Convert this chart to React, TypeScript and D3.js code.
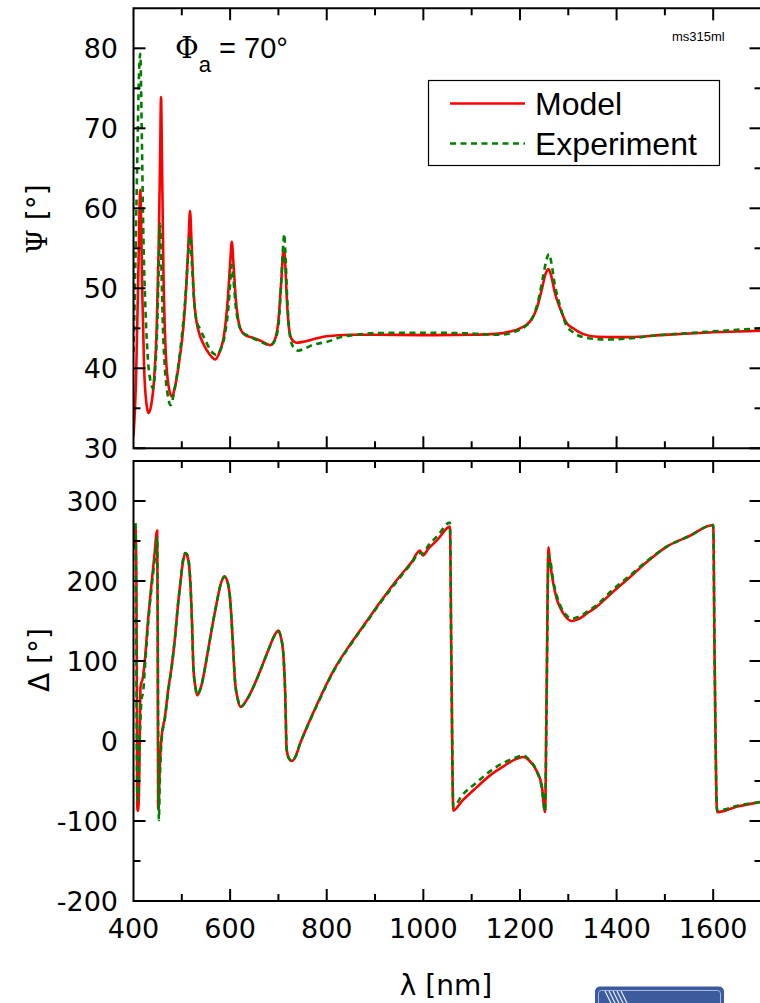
import React from 'react';
import * as d3 from 'd3';

// ---------- data ----------
const psiModel: [number, number][] = [
  [400, 31.5], [405, 38], [410, 52], [414, 62.3], [418, 50], [422, 40], [427, 35.5], [431, 34.4],
  [437, 35.5], [443, 39], [448, 45], [452, 55], [455, 66], [457, 73.9], [459, 66], [462, 52],
  [466, 43], [471, 38.5], [479, 36.5], [487, 38], [495, 41], [503, 45], [509, 50], [514, 56],
  [517, 59.7], [520, 56], [525, 49], [530, 46], [534, 44.8], [545, 43], [558, 41.7], [569, 41.1],
  [578, 42], [587, 44], [595, 48.5], [600, 53], [603.5, 55.8], [607, 53], [612, 48.5], [617, 46],
  [621, 45], [630, 44.2], [648, 43.8], [665, 43.4], [683, 42.9], [692, 43.5], [700, 46], [706, 51],
  [710, 54.6], [712, 54.9], [714, 53], [718, 48], [722, 45], [728, 43.6], [738, 43.2], [750, 43.3],
  [770, 43.6], [800, 44.0], [850, 44.2], [900, 44.2], [1000, 44.15], [1100, 44.2], [1150, 44.3],
  [1180, 44.6], [1200, 45.0], [1220, 45.8], [1235, 47.5], [1245, 49.8], [1253, 51.8], [1259, 52.4],
  [1265, 51.5], [1272, 49.5], [1283, 47.5], [1295, 45.8], [1310, 45.0], [1330, 44.3], [1359, 43.95],
  [1400, 43.9], [1430, 43.9], [1490, 44.15], [1550, 44.35], [1600, 44.5], [1650, 44.6], [1700, 44.7],
];

const psiExperiment: [number, number][] = [
  [400, 42], [403, 50], [406, 60], [409, 70], [411, 76], [414, 79.3], [417, 70], [420, 58],
  [425, 47], [430, 41], [436, 38.2], [441, 37.5], [445, 40], [449, 45], [452, 52], [455, 58.1],
  [458, 52], [461, 45], [465, 40], [470, 37], [477, 35.4], [484, 37], [492, 40], [500, 44],
  [507, 48.5], [513, 54], [517, 56.5], [521, 53], [526, 48], [531, 45.8], [537, 45.0], [548, 43.6],
  [560, 42.2], [571, 41.7], [580, 42.3], [590, 44.5], [597, 48], [600, 50.5], [603.5, 52.9],
  [607, 51], [612, 47.5], [618, 45.5], [625, 44.5], [640, 44.0], [660, 43.4], [683, 42.9],
  [693, 43.5], [701, 46], [706, 51], [710, 55.5], [712, 56.8], [714, 55], [718, 49], [722, 45],
  [728, 43], [735, 42.4], [741, 42.2], [755, 42.5], [770, 42.9], [800, 43.3], [830, 43.9],
  [869, 44.25], [900, 44.4], [1000, 44.45], [1100, 44.35], [1150, 44.2], [1170, 44.25],
  [1190, 44.6], [1210, 45.2], [1225, 46.2], [1238, 48.5], [1248, 51.5], [1256, 53.8], [1260, 54.3],
  [1265, 53.2], [1272, 50.5], [1283, 47.8], [1295, 45.5], [1310, 44.5], [1330, 43.9], [1360, 43.65],
  [1380, 43.6], [1420, 43.7], [1480, 44.1], [1550, 44.4], [1620, 44.7], [1700, 45.0],
];

const deltaModel: [number, number][] = [
  [400, 240], [402, 262], [404, 267], [406, 200], [407, 50], [408, -87], [410, -87], [412, -40],
  [414, 60], [415, 70], [419, 78], [423.5, 101], [430, 150], [437, 195], [443, 230], [449, 263],
  [450, 150], [451, -84], [452, -85], [454, -40], [458, 5], [465, 30], [472, 65], [479, 93],
  [486, 130], [492, 170], [497, 197], [502, 222], [507, 235], [512, 230], [517, 205], [521, 150],
  [524, 92], [528, 68], [532, 57], [540, 68], [552, 105], [562, 140], [572, 172], [580, 195],
  [588, 206], [594, 200], [600, 178], [605, 130], [610, 76], [616, 52], [622, 42.5], [635, 52],
  [650, 70], [665, 92], [680, 115], [692, 132], [700, 138], [705, 130], [710, 110], [714, 60],
  [717, -10], [722, -22], [728, -25], [735, -20], [745, -3], [759, 17.5], [780, 46], [814, 88],
  [850, 122], [883, 150], [910, 173], [950, 205], [975, 223], [993, 238], [999, 232], [1010, 240],
  [1030, 252], [1055, 268], [1058, 100], [1062, -87], [1080, -75], [1110, -58], [1140, -42],
  [1170, -30], [1190, -23], [1207, -20], [1220, -25], [1235, -38], [1245, -55], [1252, -89],
  [1255, 50], [1259, 242], [1262, 225], [1269, 197], [1276, 178], [1283, 167], [1295, 155],
  [1307, 150], [1320, 152], [1340, 160], [1359, 168], [1390, 185], [1428, 205], [1465, 225],
  [1504, 243], [1550, 256], [1600, 270], [1603, 100], [1608, -89], [1650, -82], [1700, -76],
];

const deltaExperiment: [number, number][] = [
  [400, 250], [402, 272], [404, 274], [405, 230], [406, 100], [407, -20], [408, -74], [410, -70],
  [412, -20], [414, 20], [416.5, 51], [420, 62], [424, 95], [430, 145], [437, 190], [443, 222],
  [449, 255], [450, 200], [451, 20], [452.5, -99], [454, -60], [458, 0], [465, 28], [472, 63],
  [479, 92], [486, 130], [492, 170], [497, 198], [502, 225], [507, 235], [512, 232], [517, 206],
  [521, 150], [524, 92], [528, 68], [532, 58], [540, 68], [552, 105], [562, 140], [572, 172],
  [580, 195], [588, 205], [594, 200], [600, 178], [605, 130], [610, 76], [616, 52], [622, 43],
  [635, 52], [650, 70], [665, 92], [680, 115], [692, 132], [700, 137], [705, 130], [710, 110],
  [714, 60], [717, -10], [722, -22], [728, -25], [735, -20], [745, -3], [759, 17], [780, 45],
  [814, 87], [850, 121], [883, 149], [910, 172], [950, 203], [975, 222], [993, 235], [999, 234],
  [1010, 244], [1030, 257], [1055, 273], [1058, 100], [1062, -82], [1080, -68], [1110, -52],
  [1140, -37], [1170, -26], [1190, -21], [1207, -18], [1220, -24], [1235, -38], [1245, -58],
  [1252, -88], [1255, 40], [1259, 232], [1262, 228], [1269, 200], [1276, 182], [1283, 170],
  [1295, 158], [1307, 153], [1320, 155], [1340, 162], [1359, 170], [1390, 188], [1428, 207],
  [1465, 226], [1504, 243], [1550, 256], [1600, 270], [1603, 100], [1608, -87], [1650, -81],
  [1700, -76],
];

const xTickLabels = [400, 600, 800, 1000, 1200, 1400, 1600];
const xMinorTicks = [500, 700, 900, 1100, 1300, 1500];
const psiTickLabels = [30, 40, 50, 60, 70, 80];
const psiMinorTicks = [35, 45, 55, 65, 75];
const deltaTickLabels = [-200, -100, 0, 100, 200, 300];
const deltaMinorTicks = [-150, -50, 50, 150, 250];
const legendItems = ['Model', 'Experiment'];

// ---------- layout ----------
const W = 760;
const H = 1003;
const X0 = 133.5;
const X1 = 761.5;
const TOP = { t: 8.3, b: 448.3 };
const BOT = { t: 461, b: 901 };
const RED = '#ff0000';
const GREEN = '#008000';
const DASH = '6,4.5';
const NUM_FONT = 'DejaVu Sans, Verdana, sans-serif';
const ARIAL = 'Liberation Sans, Arial, sans-serif';

const x = d3.scaleLinear().domain([400, 1700]).range([X0, X1]);
const yPsi = d3.scaleLinear().domain([30, 85]).range([TOP.b, TOP.t]);
const yDel = d3.scaleLinear().domain([-200, 350]).range([BOT.b, BOT.t]);

const mkLine = (y: d3.ScaleLinear<number, number>) =>
  d3
    .line<[number, number]>()
    .x((d) => x(d[0]))
    .y((d) => y(d[1]))
    .curve(d3.curveMonotoneX);

const MAJ = 12;
const MIN = 7;

function Frame({ t, b, y, major, minor }: any) {
  const els: any[] = [];
  xTickLabels.forEach((v) => {
    if (v === 400) return;
    els.push(<line key={'xt' + v} x1={x(v)} x2={x(v)} y1={t} y2={t + MAJ} />);
    els.push(<line key={'xb' + v} x1={x(v)} x2={x(v)} y1={b} y2={b - MAJ} />);
  });
  xMinorTicks.forEach((v) => {
    els.push(<line key={'xmt' + v} x1={x(v)} x2={x(v)} y1={t} y2={t + MIN} />);
    els.push(<line key={'xmb' + v} x1={x(v)} x2={x(v)} y1={b} y2={b - MIN} />);
  });
  major.forEach((v: number) => {
    els.push(<line key={'yl' + v} x1={X0} x2={X0 + MAJ} y1={y(v)} y2={y(v)} />);
    els.push(<line key={'yr' + v} x1={X1} x2={X1 - MAJ} y1={y(v)} y2={y(v)} />);
  });
  minor.forEach((v: number) => {
    els.push(<line key={'yml' + v} x1={X0} x2={X0 + MIN} y1={y(v)} y2={y(v)} />);
    els.push(<line key={'ymr' + v} x1={X1} x2={X1 - MIN} y1={y(v)} y2={y(v)} />);
  });
  return (
    <g>
      <g stroke="#000" strokeWidth={2} fill="none">
        <path d={`M${X1 + 2},${t}H${X0}V${b}H${X1 + 2}`} />
        {els}
      </g>
      <g fontFamily={NUM_FONT} fontSize={27} textAnchor="end" fill="#000">
        {major.map((v: number) => (
          <text key={'lab' + v} x={118} y={y(v)} dy="0.36em">
            {v}
          </text>
        ))}
      </g>
    </g>
  );
}

export default function App() {
  const psiLine = mkLine(yPsi);
  const delLine = mkLine(yDel);
  return (
    <svg
      width={W}
      height={H}
      viewBox={`0 0 ${W} ${H}`}
      style={{ position: 'absolute', left: 0, top: 0, background: '#fff' }}
    >
      <defs>
        <clipPath id="clipTop">
          <rect x={X0} y={TOP.t} width={X1 - X0} height={TOP.b - TOP.t} />
        </clipPath>
        <clipPath id="clipBot">
          <rect x={X0} y={BOT.t} width={X1 - X0} height={BOT.b - BOT.t} />
        </clipPath>
      </defs>
      <rect x={0} y={0} width={W} height={H} fill="#fff" />

      {/* top panel curves */}
      <g clipPath="url(#clipTop)" fill="none" strokeLinejoin="round">
        <path d={psiLine(psiModel) || ''} stroke={RED} strokeWidth={2.6} />
        <path d={psiLine(psiExperiment) || ''} stroke={GREEN} strokeWidth={2.6} strokeDasharray={DASH} />
      </g>
      {/* bottom panel curves */}
      <g clipPath="url(#clipBot)" fill="none" strokeLinejoin="round">
        <path d={delLine(deltaModel) || ''} stroke={RED} strokeWidth={2.6} />
        <path d={delLine(deltaExperiment) || ''} stroke={GREEN} strokeWidth={2.6} strokeDasharray={DASH} />
      </g>

      <Frame t={TOP.t} b={TOP.b} y={yPsi} major={psiTickLabels} minor={psiMinorTicks} />
      <Frame t={BOT.t} b={BOT.b} y={yDel} major={deltaTickLabels} minor={deltaMinorTicks} />

      {/* x tick labels */}
      <g fontFamily={NUM_FONT} fontSize={27} textAnchor="middle" fill="#000">
        {xTickLabels.map((v) => (
          <text key={'xl' + v} x={x(v)} y={938}>
            {v}
          </text>
        ))}
      </g>

      {/* axis titles */}
      <text
        transform="translate(47,219) rotate(-90)"
        textAnchor="middle"
        fontFamily={NUM_FONT}
        fontSize={28}
      >
        <tspan fontFamily="DejaVu Serif, serif">Ψ</tspan> [°]
      </text>
      <text
        transform="translate(49,660) rotate(-90)"
        textAnchor="middle"
        fontFamily={NUM_FONT}
        fontSize={28}
      >
        Δ [°]
      </text>
      <text x={446} y={995} textAnchor="middle" fontFamily={NUM_FONT} fontSize={28}>
        λ [nm]
      </text>

      {/* annotation */}
      <text x={175} y={58} fontFamily={ARIAL} fontSize={29} fill="#000">
        <tspan fontFamily="DejaVu Serif, serif">Φ</tspan>
        <tspan dy={14} fontSize={22}>a</tspan>
        <tspan dy={-14}> = 70°</tspan>
      </text>
      <text x={672} y={41} fontFamily={ARIAL} fontSize={13} fill="#000">
        ms315ml
      </text>

      {/* legend */}
      <g>
        <rect x={428.5} y={80.5} width={291} height={85} fill="#fff" stroke="#000" strokeWidth={1.2} />
        <line x1={450} x2={525} y1={103.5} y2={103.5} stroke={RED} strokeWidth={2.6} />
        <line x1={450} x2={525} y1={143.5} y2={143.5} stroke={GREEN} strokeWidth={2.6} strokeDasharray={DASH} />
        <text x={535} y={115} fontFamily={ARIAL} fontSize={32}>
          {legendItems[0]}
        </text>
        <text x={535} y={155} fontFamily={ARIAL} fontSize={32}>
          {legendItems[1]}
        </text>
      </g>

      {/* logo fragment */}
      <g>
        <rect x={595} y={986.5} width={129} height={30} rx={5} fill="#3c5a9e" />
        <rect x={598.5} y={990.5} width={122} height={25} rx={3} fill="none" stroke="#a9b8da" strokeWidth={1} />
        {[0, 1, 2, 3, 4].map((i) => (
          <line
            key={'s' + i}
            x1={605 + i * 4}
            y1={991}
            x2={611 + i * 4}
            y2={1003}
            stroke="#dfe6f5"
            strokeWidth={1.3}
          />
        ))}
      </g>
    </svg>
  );
}
